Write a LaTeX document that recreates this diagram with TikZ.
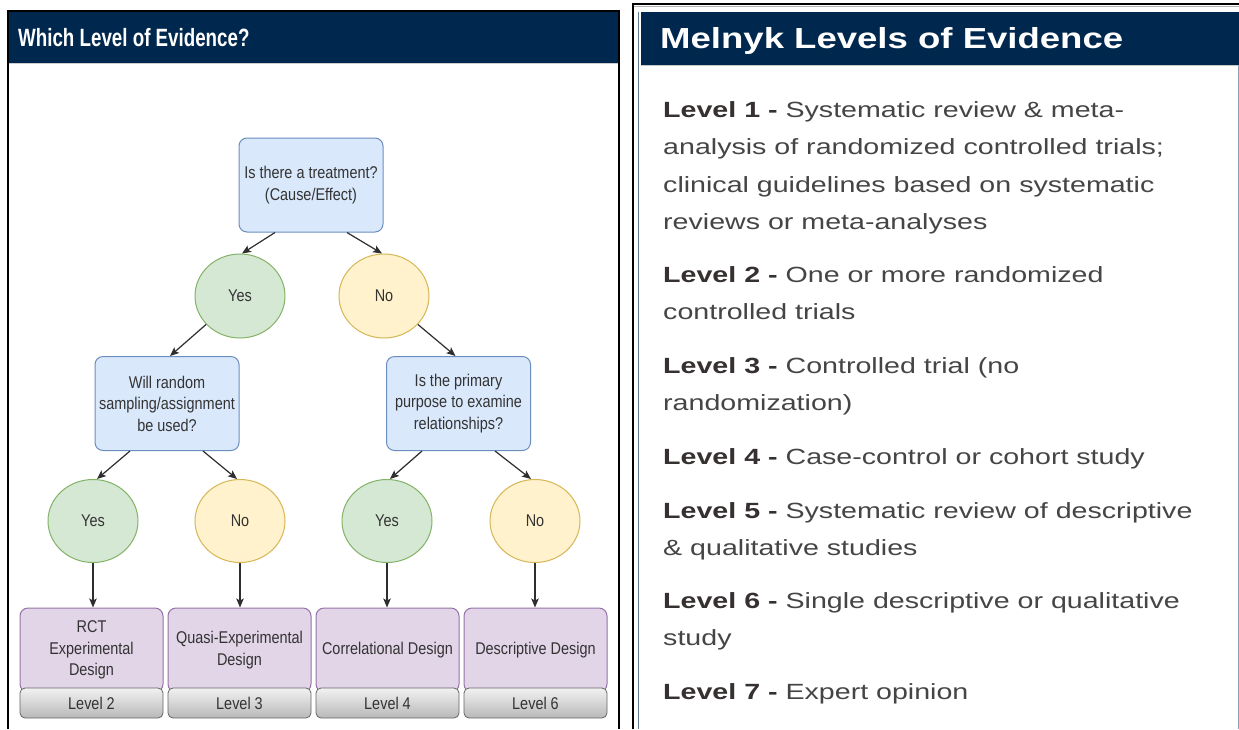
\documentclass[tikz,border=0pt]{standalone}
\usepackage{fontspec}
\setmainfont{Liberation Sans}
\newfontfamily\flowfont[FakeStretch=0.85]{Liberation Sans}
\newfontfamily\leftheadfont[FakeStretch=0.75]{Liberation Sans}
\newfontfamily\rightheadfont[FakeStretch=1.26]{Liberation Sans}
\newfontfamily\panelfont[FakeStretch=1.3]{Liberation Sans}
\usetikzlibrary{shapes.geometric,arrows.meta}

\definecolor{navy}{RGB}{0,40,78}
\definecolor{qfill}{HTML}{DAE8FC}
\definecolor{qstroke}{HTML}{6C8EBF}
\definecolor{yfill}{HTML}{D5E8D4}
\definecolor{ystroke}{HTML}{82B366}
\definecolor{nfill}{HTML}{FFF2CC}
\definecolor{nstroke}{HTML}{D6B656}
\definecolor{pfill}{HTML}{E1D5E7}
\definecolor{pstroke}{HTML}{9673A6}
\definecolor{gtop}{HTML}{F2F2F2}
\definecolor{gbot}{HTML}{B8B8B8}
\definecolor{gstroke}{HTML}{666666}
\definecolor{txt}{HTML}{333333}
\definecolor{arrc}{HTML}{2E2E2E}
\definecolor{boldc}{HTML}{363030}
\definecolor{bodyc}{HTML}{454545}
\definecolor{edgec}{HTML}{5F7C99}

% bold lead-in of each list entry
\newcommand\levelhead[1]{{\bfseries\color{boldc}#1}}

\begin{document}
\begin{tikzpicture}[x=1pt,y=-1pt,
  flowtext/.style={font=\flowfont\fontsize{17}{21.5}\selectfont, text=txt},
  qbox/.style={flowtext, draw=qstroke, fill=qfill, line width=1pt,
    rounded corners=8pt, minimum width=144pt, minimum height=94pt,
    align=center, inner sep=2pt},
  yesnode/.style={flowtext, ellipse, draw=ystroke, fill=yfill, line width=1pt,
    minimum width=90pt, minimum height=84pt, inner sep=0pt},
  nonode/.style={yesnode, draw=nstroke, fill=nfill},
  design/.style={flowtext, draw=pstroke, fill=pfill, line width=1pt,
    rounded corners=8pt, minimum width=143pt, minimum height=84pt,
    align=center, inner sep=2pt},
  levelband/.style={flowtext, draw=gstroke, line width=0.8pt,
    top color=gtop, bottom color=gbot, rounded corners=5pt,
    minimum width=143pt, minimum height=30pt, inner sep=0pt},
  arr/.style={draw=arrc, line width=1.2pt,
    -{Stealth[length=9pt,width=7.5pt,inset=2pt]}},
  % anchored at the baseline of the last line of each entry
  paratext/.style={anchor=base west, align=left, inner sep=0pt, text=bodyc,
    font=\panelfont\fontsize{22}{37.5}\selectfont}
]
\useasboundingbox (0,0) rectangle (1239,729);
\fill[white] (0,0) rectangle (1239,729);

% ---------- left panel: frame and title bar ----------
\fill[navy] (9,12) rectangle (618,63);
\draw[gray!40, line width=0.6pt] (9,63.5) -- (618,63.5);
\draw[black, line width=2pt] (8,729) -- (8,11) -- (619,11) -- (619,729);
\node[anchor=base west, inner sep=0pt, text=white,
  font=\leftheadfont\bfseries\fontsize{25}{30}\selectfont]
  (lefttitle) at (18,46) {Which Level of Evidence?};

% ---------- decision tree ----------
\node[qbox] (q1) at (311,185) {Is there a treatment?\\(Cause/Effect)};
\node[yesnode] (y1) at (240,296) {Yes};
\node[nonode]  (n1) at (384,296) {No};
\node[qbox] (q2) at (167,403.5) {Will random\\sampling/assignment\\be used?};
\node[qbox] (q3) at (458.5,403.5) {Is the primary\\purpose to examine\\relationships?};
\node[yesnode, minimum height=83pt] (y2) at (93,521) {Yes};
\node[nonode,  minimum height=83pt] (n2) at (240,521) {No};
\node[yesnode, minimum height=83pt] (y3) at (387,521) {Yes};
\node[nonode,  minimum height=83pt] (n3) at (535,521) {No};

\node[design] (d1) at (91.5,650)  {RCT\\Experimental\\Design};
\node[design] (d2) at (239.5,650) {Quasi-Experimental\\Design};
\node[design] (d3) at (387.5,650) {Correlational Design};
\node[design] (d4) at (535.5,650) {Descriptive Design};
\node[levelband] (b1) at (91.5,703)  {Level 2};
\node[levelband] (b2) at (239.5,703) {Level 3};
\node[levelband] (b3) at (387.5,703) {Level 4};
\node[levelband] (b4) at (535.5,703) {Level 6};

\draw[arr] ([xshift=-36pt]q1.south) -- ([xshift=2pt]y1.north);
\draw[arr] ([xshift=36pt]q1.south) -- ([xshift=-2pt]n1.north);
\draw[arr] (y1.-140) -- ([xshift=3pt]q2.north);
\draw[arr] (n1.-40) -- ([xshift=-3pt]q3.north);
\draw[arr] ([xshift=-37pt]q2.south) -- ([xshift=4pt]y2.north);
\draw[arr] ([xshift=36pt]q2.south) -- ([xshift=-3pt]n2.north);
\draw[arr] ([xshift=-36.5pt]q3.south) -- ([xshift=3pt]y3.north);
\draw[arr] ([xshift=36.5pt]q3.south) -- ([xshift=-4pt]n3.north);
\draw[arr] (y2.south) -- (y2.south |- d1.north);
\draw[arr] (n2.south) -- (n2.south |- d2.north);
\draw[arr] (y3.south) -- (y3.south |- d3.north);
\draw[arr] (n3.south) -- (n3.south |- d4.north);

% ---------- right panel: frame and title bar ----------
\draw[black, line width=2pt] (633,729) -- (633,4) -- (1239,4);
\draw[gray!60, line width=0.7pt] (634,6.5) -- (1239,6.5);
\fill[navy] (641,12) rectangle (1239,65);
\draw[gray!45, line width=0.6pt] (641,65.5) -- (1239,65.5);
\draw[edgec, line width=1.2pt] (638.5,12) -- (638.5,729);
\draw[edgec!70, line width=1pt] (1238.3,65) -- (1238.3,729);
\node[anchor=base west, inner sep=0pt, text=white,
  font=\rightheadfont\bfseries\fontsize{29}{34}\selectfont]
  (righttitle) at (660,48) {Melnyk Levels of Evidence};

% ---------- levels list ----------
\node[paratext] (p1) at (663,229.5) {\levelhead{Level 1 -} Systematic review \& meta-\\
  analysis of randomized controlled trials;\\
  clinical guidelines based on systematic\\
  reviews or meta-analyses};
\node[paratext] (p2) at (663,319.5) {\levelhead{Level 2 -} One or more randomized\\
  controlled trials};
\node[paratext] (p3) at (663,410.5) {\levelhead{Level 3 -} Controlled trial (no\\
  randomization)};
\node[paratext] (p4) at (663,464) {\levelhead{Level 4 -} Case-control or cohort study};
\node[paratext] (p5) at (663,555.5) {\levelhead{Level 5 -} Systematic review of descriptive\\
  \& qualitative studies};
\node[paratext] (p6) at (663,645.5) {\levelhead{Level 6 -} Single descriptive or qualitative\\
  study};
\node[paratext] (p7) at (663,699) {\levelhead{Level 7 -} Expert opinion};
\end{tikzpicture}
\end{document}
